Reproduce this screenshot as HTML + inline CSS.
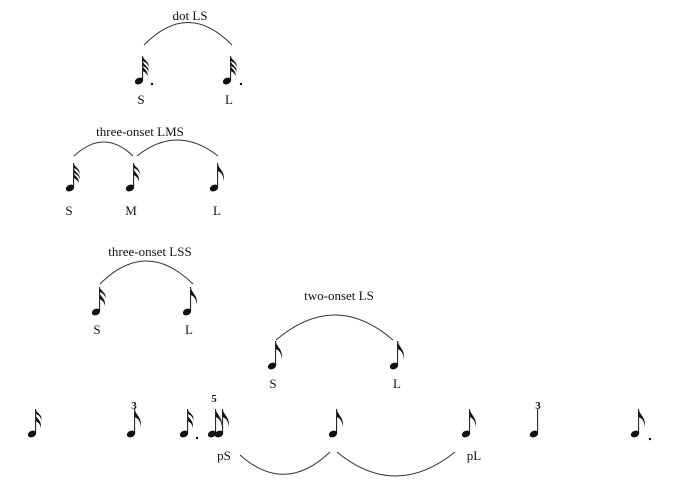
<!DOCTYPE html>
<html><head><meta charset="utf-8"><style>
html,body{margin:0;padding:0;background:#fff;}
svg{display:block;}
text{font-family:"Liberation Serif",serif;font-size:13px;fill:#111;}
.b{font-weight:bold;font-size:11px;}
</style></head><body>
<svg width="684" height="482" viewBox="0 0 684 482" xmlns="http://www.w3.org/2000/svg">
<defs>
<g id="n"><ellipse cx="0" cy="0" rx="4.3" ry="3.2" transform="rotate(-25)" fill="#111"/><line x1="3.6" y1="-1" x2="3.6" y2="-25" stroke="#111" stroke-width="1"/></g>
<path id="f" d="M3.6,-25 c1,6 8,9 6,18 c0,-6 -3,-9 -6,-10 z" fill="#111"/>
<path id="fs" d="M3.6,-25 c1,4 7,6 6,11 c-1,-3 -3,-5 -6,-6 z" fill="#111"/>
<g id="e"><use href="#n"/><use href="#f"/></g>
<g id="s"><use href="#n"/><use href="#fs"/><path d="M3.6,-19 c1,4 7,6 5,13 c0,-4 -3,-6 -5,-7 z" fill="#111"/></g>
<g id="t"><use href="#n"/><use href="#fs"/><use href="#fs" y="5"/><path d="M3.6,-15 c1,3 6,5 5,10 c-1,-3 -3,-4 -5,-5 z" fill="#111"/></g>
</defs>
<g fill="none" stroke="#333" stroke-width="1">
<path d="M144,45 Q188,0 232,45"/>
<path d="M74,156 Q104,128 133,156"/>
<path d="M137,156 Q177,124 218,156"/>
<path d="M100,284 Q146,238 193,284"/>
<path d="M276,340 Q335,290 393,340"/>
<path d="M240,455 Q285,495 330,452"/>
<path d="M337,452 Q395,500 455,452"/>
</g>
<text x="190" y="20" text-anchor="middle">dot LS</text>
<use href="#t" x="139" y="81"/><circle cx="152" cy="84" r="1.2" fill="#111"/>
<use href="#t" x="227" y="81"/><circle cx="241" cy="84" r="1.2" fill="#111"/>
<text x="141" y="104" text-anchor="middle">S</text><text x="229" y="104" text-anchor="middle">L</text>
<text x="140" y="136" text-anchor="middle">three-onset LMS</text>
<use href="#t" x="70" y="188"/><use href="#s" x="130" y="188"/><use href="#e" x="214" y="188"/>
<text x="69" y="215" text-anchor="middle">S</text><text x="131" y="215" text-anchor="middle">M</text><text x="217" y="215" text-anchor="middle">L</text>
<text x="150" y="256" text-anchor="middle">three-onset LSS</text>
<use href="#s" x="96" y="312"/><use href="#e" x="187" y="312"/>
<text x="97" y="334" text-anchor="middle">S</text><text x="189" y="334" text-anchor="middle">L</text>
<text x="339" y="300" text-anchor="middle">two-onset LS</text>
<use href="#e" x="272" y="366"/><use href="#e" x="394" y="366"/>
<text x="273" y="388" text-anchor="middle">S</text><text x="397" y="388" text-anchor="middle">L</text>
<use href="#s" x="32" y="434"/>
<use href="#e" x="131" y="434"/><text class="b" x="134" y="409" text-anchor="middle">3</text>
<use href="#s" x="184" y="434"/><circle cx="197" cy="438" r="1.2" fill="#111"/>
<use href="#e" x="212" y="434"/><use href="#e" x="219" y="434"/>
<text class="b" x="214" y="402" text-anchor="middle">5</text>
<use href="#e" x="333" y="434"/>
<use href="#e" x="466" y="434"/>
<use href="#n" x="534" y="434"/><text class="b" x="538" y="409" text-anchor="middle">3</text>
<use href="#e" x="635" y="434"/><circle cx="650" cy="439" r="1.2" fill="#111"/>
<text x="224" y="460" text-anchor="middle">pS</text><text x="474" y="460" text-anchor="middle">pL</text>
</svg>
</body></html>
